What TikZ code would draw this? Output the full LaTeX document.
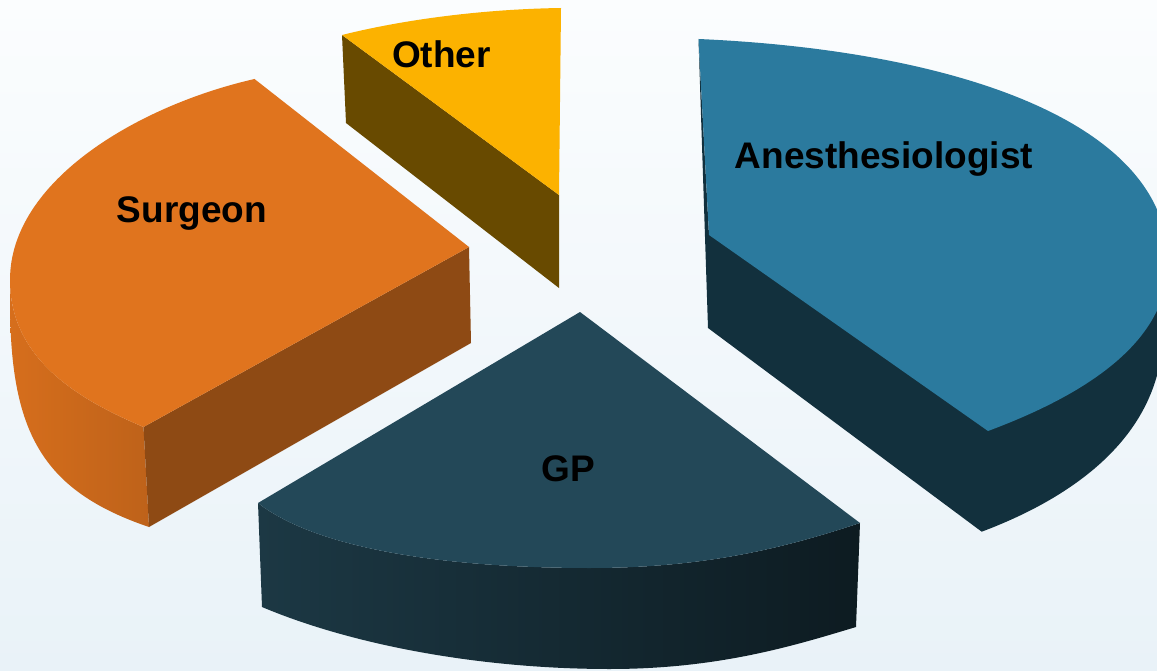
\documentclass[tikz,border=0pt]{standalone}
\usepackage{fontspec}
\setmainfont{Liberation Sans}
\definecolor{bgtop}{RGB}{251,253,254}
\definecolor{bgmid}{RGB}{247,250,252}
\definecolor{bgbot}{RGB}{233,242,248}
\definecolor{othertop}{RGB}{252,178,0}
\definecolor{otherside}{RGB}{104,74,0}
\definecolor{surgtop}{RGB}{224,116,30}
\definecolor{surgright}{RGB}{142,74,20}
\definecolor{surgsideL}{RGB}{214,110,28}
\definecolor{surgsideR}{RGB}{190,98,26}
\definecolor{anestop}{RGB}{43,122,158}
\definecolor{anesside}{RGB}{18,48,61}
\definecolor{gptop}{RGB}{35,72,88}
\definecolor{gpsideL}{RGB}{28,56,68}
\definecolor{gpsideR}{RGB}{13,27,33}
\begin{document}
\begin{tikzpicture}[x=1pt,y=-1pt,
  lbl/.style={font=\fontsize{37}{40}\selectfont\bfseries, text=black, anchor=base, inner sep=0pt}]
\useasboundingbox (0,0) rectangle (1157,671);
\clip (0,0) rectangle (1157,671);
\shade[top color=bgtop, middle color=bgmid, bottom color=bgbot] (0,0) rectangle (1157,671);

% Other
\fill[otherside] (342,35) -- (559,195) -- (559,288) -- (346,123) -- cycle;
\fill[othertop] (342,35) .. controls (410,18) and (490,9) .. (561,8) -- (559,195) -- cycle;

% Surgeon
\shade[left color=surgsideL, right color=surgsideR]
  (10,280) .. controls (10,360) and (80,400) .. (143.5,427)
  -- (149,527) .. controls (40,490) and (10,430) .. (10,300) -- cycle;
\fill[surgright] (143.5,427) -- (469,247) -- (471,343) -- (149,527) -- cycle;
\fill[surgtop] (254.5,79) .. controls (140,105) and (10,180) .. (10,280)
  .. controls (10,360) and (80,400) .. (143.5,427) -- (469,247) -- cycle;

% Anesthesiologist
\fill[anesside] (698.5,39) -- (708,328) -- (981.7,531.7)
  .. controls (1082,494) and (1163,430) .. (1163,330)
  -- (1180,330) -- (1180,262) -- (1100,262) -- (709,235) -- cycle;
\fill[anestop] (698.5,39) .. controls (950,50) and (1168,120) .. (1168,262)
  .. controls (1168,340) and (1090,393) .. (988,431) -- (709,235) -- cycle;

% GP
\shade[left color=gpsideL, right color=gpsideR]
  (258,503) .. controls (318,550) and (450,568) .. (590,568)
  .. controls (710,568) and (790,546) .. (860,523)
  -- (856,627) .. controls (796,645) and (720,669) .. (610,669)
  .. controls (480,669) and (352,645) .. (262,607) -- cycle;
\fill[gptop] (580,312) -- (258,503)
  .. controls (318,550) and (450,568) .. (590,568)
  .. controls (710,568) and (790,546) .. (860,523) -- cycle;

% Labels
\node[lbl] (other) at (441.5,67.3) {Other};
\node[lbl] (surgeon) at (192,222.7) {Surgeon};
\node[lbl] (anes) at (884,168.3) {Anesthesiologist};
\node[lbl] (gp) at (568,481) {GP};
\end{tikzpicture}
\end{document}
